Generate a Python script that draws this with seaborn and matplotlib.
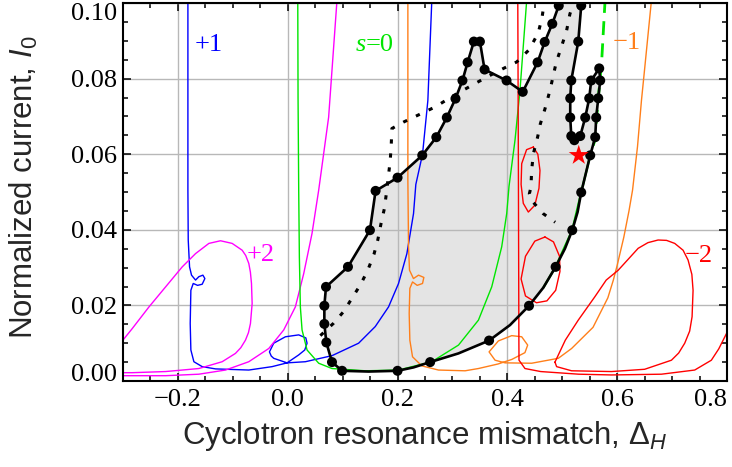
import matplotlib
matplotlib.use("Agg")
import matplotlib.pyplot as plt
import seaborn as sns
from matplotlib.ticker import MultipleLocator, FixedLocator, FixedFormatter

# ---------------- data ----------------
# black boundary of the shaded region (line vertices)
bound_x = [0.0990, 0.0806, 0.0703, 0.0667, 0.0667, 0.0697, 0.1097, 0.1497, 0.1600, 0.2000,
           0.2450, 0.2706, 0.2897, 0.3055, 0.3182, 0.3276, 0.3390, 0.3500, 0.3585, 0.3985,
           0.4280, 0.4550, 0.4680, 0.4818, 0.4936, 0.4997, 0.5357, 0.5345, 0.5291, 0.5164,
           0.5145, 0.5145, 0.5164, 0.5220, 0.5327, 0.5418, 0.5491, 0.5527, 0.5673, 0.5691,
           0.5655, 0.5618, 0.5600, 0.5509, 0.5345, 0.5279, 0.5182, 0.5048, 0.4879, 0.4655,
           0.4394, 0.4048, 0.3667, 0.3109, 0.2594, 0.2291, 0.2000, 0.1473, 0.0990]
bound_y = [0.0027, 0.0050, 0.0102, 0.0151, 0.0199, 0.0249, 0.0302, 0.0399, 0.0503, 0.0538,
           0.0597, 0.0645, 0.0697, 0.0747, 0.0795, 0.0843, 0.0898, 0.0898, 0.0824, 0.0795,
           0.0765, 0.0843, 0.0897, 0.0945, 0.0993, 0.1015, 0.1015, 0.0993, 0.0898, 0.0795,
           0.0748, 0.0697, 0.0648, 0.0637, 0.0648, 0.0697, 0.0748, 0.0795, 0.0827, 0.0795,
           0.0748, 0.0697, 0.0645, 0.0597, 0.0499, 0.0447, 0.0399, 0.0350, 0.0302, 0.0247,
           0.0199, 0.0148, 0.0107, 0.0073, 0.0050, 0.0036, 0.0027, 0.0025, 0.0027]

# computed points (black dots)
dots_x = [0.0990, 0.0806, 0.0703, 0.0667, 0.0667, 0.0697, 0.1097, 0.1497, 0.1600, 0.2000,
          0.2450, 0.2706, 0.2897, 0.3055, 0.3182, 0.3276, 0.3390, 0.3500, 0.3585, 0.3985,
          0.4280, 0.4550, 0.4680, 0.4818, 0.4936, 0.5345, 0.5291, 0.5164, 0.5145, 0.5145,
          0.5164, 0.5220, 0.5327, 0.5418, 0.5491, 0.5527, 0.5673, 0.5691, 0.5655, 0.5618,
          0.5600, 0.5509, 0.5345, 0.5182, 0.4879, 0.4394, 0.3667, 0.2594, 0.2000]
dots_y = [0.0027, 0.0050, 0.0102, 0.0151, 0.0199, 0.0249, 0.0302, 0.0399, 0.0503, 0.0538,
          0.0597, 0.0645, 0.0697, 0.0747, 0.0795, 0.0843, 0.0898, 0.0898, 0.0824, 0.0795,
          0.0765, 0.0843, 0.0897, 0.0945, 0.0993, 0.0993, 0.0898, 0.0795, 0.0748, 0.0697,
          0.0648, 0.0637, 0.0648, 0.0697, 0.0748, 0.0795, 0.0827, 0.0795, 0.0748, 0.0697,
          0.0645, 0.0597, 0.0499, 0.0399, 0.0302, 0.0199, 0.0107, 0.0050, 0.0027]

# dotted black curve
dotted_x = [0.0594, 0.0836, 0.1020, 0.1170, 0.1330, 0.1460, 0.1570, 0.1640, 0.1700, 0.1760,
            0.1800, 0.1867, 0.1885, 0.1897, 0.2109, 0.2685, 0.3020, 0.3412, 0.3690, 0.3930,
            0.4170, 0.4394, 0.4560, 0.4630, 0.4670, 0.4700, 0.5200, 0.5230, 0.5139, 0.5079,
            0.4980, 0.4890, 0.4836, 0.4776, 0.4685, 0.4600, 0.4552, 0.4473, 0.4442, 0.4430,
            0.4400, 0.4440, 0.4650, 0.4870]
dotted_y = [0.0120, 0.0153, 0.0184, 0.0219, 0.0256, 0.0294, 0.0335, 0.0373, 0.0417, 0.0456,
            0.0500, 0.0584, 0.0624, 0.0668, 0.0685, 0.0725, 0.0755, 0.0787, 0.0809, 0.0827,
            0.0844, 0.0876, 0.0920, 0.0960, 0.1000, 0.1030, 0.1030, 0.1010, 0.0971, 0.0927,
            0.0882, 0.0843, 0.0808, 0.0769, 0.0720, 0.0680, 0.0646, 0.0601, 0.0557, 0.0513,
            0.0495, 0.0478, 0.0443, 0.0420]

# s = +1 (blue)
blue_x = [-0.1818, -0.1818, -0.1812, -0.1788, -0.1752, -0.1679, -0.1618, -0.1545, -0.1509, -0.1558,
          -0.1642, -0.1721, -0.1764, -0.1776, -0.1764, -0.1709, -0.1558, -0.1315, -0.0709, -0.0285,
          -0.0012, 0.0200, 0.0310, 0.0352, 0.0330, 0.0200, -0.0042, -0.0255, -0.0333, -0.0300,
          -0.0255, -0.0012, 0.0321, 0.0806, 0.1291, 0.1594, 0.1836, 0.2018, 0.2170, 0.2291,
          0.2333, 0.2455, 0.2552, 0.2624, 0.2640]
blue_y = [0.1050, 0.0505, 0.0373, 0.0302, 0.0280, 0.0267, 0.0276, 0.0280, 0.0271, 0.0256,
          0.0253, 0.0258, 0.0240, 0.0152, 0.0082, 0.0051, 0.0038, 0.0032, 0.0029, 0.0038,
          0.0048, 0.0069, 0.0082, 0.0100, 0.0114, 0.0122, 0.0117, 0.0100, 0.0077, 0.0066,
          0.0060, 0.0048, 0.0051, 0.0067, 0.0100, 0.0144, 0.0196, 0.0258, 0.0337, 0.0443,
          0.0520, 0.0600, 0.0742, 0.1007, 0.1050]

# s = +2 (magenta), loop branch and rising branch
mag_loop_x = [-0.3024, -0.2830, -0.2527, -0.2224, -0.1921, -0.1679, -0.1436, -0.1224, -0.1012, -0.0830,
              -0.0765, -0.0709, -0.0680, -0.0660, -0.0648, -0.0679, -0.0715, -0.0770, -0.0855, -0.0952,
              -0.1194, -0.1618, -0.2224, -0.2830, -0.3024]
mag_loop_y = [0.0104, 0.0139, 0.0196, 0.0249, 0.0302, 0.0337, 0.0364, 0.0371, 0.0364, 0.0346,
              0.0332, 0.0311, 0.0288, 0.0258, 0.0205, 0.0152, 0.0128, 0.0108, 0.0088, 0.0073,
              0.0051, 0.0033, 0.0025, 0.0022, 0.0022]
mag_rise_x = [-0.3024, -0.2224, -0.1618, -0.1133, -0.0709, -0.0345, -0.0073, 0.0139, 0.0291, 0.0442,
              0.0564, 0.0745, 0.0897, 0.0910]
mag_rise_y = [0.0014, 0.0014, 0.0018, 0.0029, 0.0051, 0.0086, 0.0135, 0.0196, 0.0284, 0.0390,
              0.0505, 0.0698, 0.1007, 0.1050]

# s = 0 (green)
green_x = [0.0182, 0.0188, 0.0200, 0.0212, 0.0230, 0.0261, 0.0352, 0.0564, 0.0806, 0.1412,
           0.2018, 0.2624, 0.3110, 0.3473, 0.3715, 0.3897, 0.3988, 0.4030, 0.4139, 0.4230,
           0.4352, 0.4370]
green_y = [0.1050, 0.0750, 0.0505, 0.0328, 0.0196, 0.0135, 0.0082, 0.0047, 0.0033, 0.0027,
           0.0029, 0.0051, 0.0095, 0.0161, 0.0249, 0.0355, 0.0443, 0.0515, 0.0637, 0.0769,
           0.1007, 0.1050]
green_dash_x = [0.5790, 0.5776, 0.5715, 0.5650, 0.5594, 0.5509]
green_dash_y = [0.1050, 0.0998, 0.0839, 0.0740, 0.0637, 0.0597]
green_tail_x = [0.5509, 0.5345, 0.5182, 0.4879, 0.4655]
green_tail_y = [0.0597, 0.0499, 0.0399, 0.0302, 0.0247]

# s = -1 (orange)
orange_x = [0.2188, 0.2188, 0.2200, 0.2218, 0.2290, 0.2382, 0.2479, 0.2455, 0.2358, 0.2273,
            0.2224, 0.2212, 0.2224, 0.2273, 0.2442, 0.2745, 0.3230, 0.3473, 0.3830, 0.4080,
            0.4320, 0.4370, 0.4261, 0.4079, 0.3836, 0.3667, 0.3776, 0.3958, 0.4442, 0.4927,
            0.5170, 0.5560, 0.5830, 0.5930, 0.6000, 0.6120, 0.6215, 0.6280, 0.6370, 0.6442,
            0.6503, 0.6624, 0.6650]
orange_y = [0.1050, 0.0531, 0.0355, 0.0293, 0.0271, 0.0280, 0.0274, 0.0258, 0.0253, 0.0262,
            0.0245, 0.0179, 0.0108, 0.0064, 0.0040, 0.0029, 0.0027, 0.0033, 0.0045, 0.0057,
            0.0075, 0.0095, 0.0117, 0.0120, 0.0106, 0.0077, 0.0055, 0.0048, 0.0047, 0.0060,
            0.0086, 0.0142, 0.0220, 0.0267, 0.0306, 0.0380, 0.0450, 0.0505, 0.0620, 0.0742,
            0.0830, 0.1007, 0.1050]

# s = -2 (red): vertical branch, big loop and two small loops
red_x = [0.4200, 0.4190, 0.4195, 0.4200, 0.4206, 0.4210, 0.4212, 0.4321, 0.4606, 0.5300,
         0.5897, 0.6806, 0.7412, 0.7715, 0.7850, 0.8006, 0.8100]
red_y = [0.1050, 0.1000, 0.0800, 0.0600, 0.0300, 0.0100, 0.0055, 0.0033, 0.0025, 0.0018,
         0.0016, 0.0018, 0.0029, 0.0055, 0.0085, 0.0130, 0.0150]
red_loop_x = [0.4867, 0.5055, 0.5291, 0.5594, 0.5800, 0.6018, 0.6382, 0.6560, 0.6745, 0.6900,
              0.7048, 0.7200, 0.7291, 0.7360, 0.7382, 0.7364, 0.7320, 0.7230, 0.7120, 0.6988,
              0.6500, 0.5897, 0.5170, 0.4897, 0.4867]
red_loop_y = [0.0050, 0.0108, 0.0161, 0.0223, 0.0267, 0.0293, 0.0351, 0.0366, 0.0373, 0.0372,
              0.0364, 0.0346, 0.0320, 0.0282, 0.0240, 0.0170, 0.0132, 0.0100, 0.0074, 0.0055,
              0.0031, 0.0025, 0.0027, 0.0038, 0.0050]
red_e1_x = [0.4473, 0.4555, 0.4594, 0.4576, 0.4500, 0.4382, 0.4290, 0.4250, 0.4261, 0.4350, 0.4473]
red_e1_y = [0.0619, 0.0600, 0.0557, 0.0510, 0.0465, 0.0447, 0.0470, 0.0520, 0.0575, 0.0612, 0.0619]
red_e2_x = [0.4685, 0.4840, 0.4950, 0.4958, 0.4880, 0.4720, 0.4530, 0.4330, 0.4250, 0.4330, 0.4500, 0.4685]
red_e2_y = [0.0381, 0.0368, 0.0330, 0.0290, 0.0240, 0.0212, 0.0207, 0.0225, 0.0270, 0.0330, 0.0370, 0.0381]

star_x = [0.530]
star_y = [0.0597]

x_ticks = [-0.2, 0.0, 0.2, 0.4, 0.6, 0.8]
x_tick_labels = ["\u22120.2", "0.0", "0.2", "0.4", "0.6", "0.8"]
y_ticks = [0.00, 0.02, 0.04, 0.06, 0.08, 0.10]
y_tick_labels = ["0.00", "0.02", "0.04", "0.06", "0.08", "0.10"]

curve_labels = [("+1", -0.1436, 0.0890, "#0000ff"),
                ("+2", -0.0490, 0.0333, "#ff00ff"),
                ("\u22121", 0.6180, 0.0893, "#ff7f1a"),
                ("\u22122", 0.7490, 0.0330, "#ff0000")]

# ---------------- style ----------------
sns.set_theme(style="ticks")
SERIF = ["Liberation Serif", "DejaVu Serif"]
SANS = ["Liberation Sans", "DejaVu Sans"]
plt.rcParams["font.family"] = SERIF
plt.rcParams["mathtext.fontset"] = "custom"
plt.rcParams["mathtext.rm"] = "Liberation Sans"
plt.rcParams["mathtext.it"] = "Liberation Sans:italic"

BLUE, MAG, GREEN, ORANGE, RED = "#0000ff", "#ff00ff", "#00e600", "#ff7f1a", "#ff0000"

fig = plt.figure(figsize=(7.32, 4.67), dpi=100)
ax = fig.add_axes([123 / 732, 1 - 381 / 467, 604 / 732, 378 / 467])
ax.set_axisbelow(True)


def line(x, y, color, lw=1.0, z=2, **kw):
    sns.lineplot(x=x, y=y, sort=False, estimator=None, color=color,
                 linewidth=lw, ax=ax, zorder=z, solid_joinstyle="round", **kw)


# shaded region
ax.fill(bound_x, bound_y, color="#e4e4e4", lw=0, zorder=0.3)

# colored curves
line(blue_x, blue_y, BLUE)
line(mag_loop_x, mag_loop_y, MAG)
line(mag_rise_x, mag_rise_y, MAG)
line(green_x, green_y, GREEN)
line(green_tail_x, green_tail_y, GREEN, lw=1.6)
line(green_dash_x, green_dash_y, GREEN, lw=2.0, linestyle=(0, (5, 3)))
line(orange_x, orange_y, ORANGE)
line(red_x, red_y, RED)
line(red_loop_x, red_loop_y, RED)
line(red_e1_x, red_e1_y, RED)
line(red_e2_x, red_e2_y, RED)

# dotted black curve
line(dotted_x, dotted_y, "black", lw=2.2, z=3, linestyle=(0, (1.4, 3.2)))

# black boundary and dots
line(bound_x, bound_y, "black", lw=1.9, z=4)
sns.scatterplot(x=dots_x, y=dots_y, color="black", s=52, edgecolor="none", ax=ax, zorder=5)

# star
sns.scatterplot(x=star_x, y=star_y, color=RED, marker="*", s=230, edgecolor="none", ax=ax, zorder=6)

# curve labels
for txt, lx, ly, col in curve_labels:
    ax.text(lx, ly, txt, color=col, fontsize=19, ha="center", va="center",
            family=SERIF, zorder=7)
ax.text(0.1236, 0.0890, "s", color=GREEN, fontsize=19, ha="left", va="center",
        style="italic", family=SERIF, zorder=7)
ax.text(0.1424, 0.0890, "=0", color=GREEN, fontsize=19, ha="left", va="center",
        family=SERIF, zorder=7)

# axes
ax.set_xlim(-0.3, 0.8)
ax.set_ylim(0.0, 0.1)
ax.xaxis.set_major_locator(FixedLocator(x_ticks))
ax.xaxis.set_major_formatter(FixedFormatter(x_tick_labels))
ax.yaxis.set_major_locator(FixedLocator(y_ticks))
ax.yaxis.set_major_formatter(FixedFormatter(y_tick_labels))
ax.xaxis.set_minor_locator(MultipleLocator(0.05))
ax.yaxis.set_minor_locator(MultipleLocator(0.005))
ax.grid(True, which="major", color="#b8b8b8", lw=1.0)
ax.tick_params(which="both", direction="in", top=True, right=True, color="black",
               width=1.1, labelsize=19, labelcolor="black")
ax.tick_params(which="major", length=6)
ax.tick_params(which="minor", length=3.5)
ax.tick_params(axis="x", pad=6)
ax.tick_params(axis="y", pad=4)
for sp in ax.spines.values():
    sp.set_color("black")
    sp.set_linewidth(1.5)

fig.canvas.draw()
for t in ax.get_xticklabels() + ax.get_yticklabels():
    t.set_fontfamily(SERIF)
xl = ax.get_xticklabels()
xl[-1].set_ha("right")
yl = ax.get_yticklabels()
yl[0].set_va("baseline")
yl[-1].set_va("top")

ax.set_xlabel("Cyclotron resonance mismatch, $\\Delta_H$", fontsize=22.5, family=SANS)
ax.set_ylabel("Normalized current, $I_0$", fontsize=22.5, family=SANS)
ax.xaxis.set_label_coords(0.5, -0.10)
ax.xaxis.label.set_va("top")
ax.yaxis.set_label_coords(-0.137, 0.512)

fig.savefig("out.png", dpi=100)
